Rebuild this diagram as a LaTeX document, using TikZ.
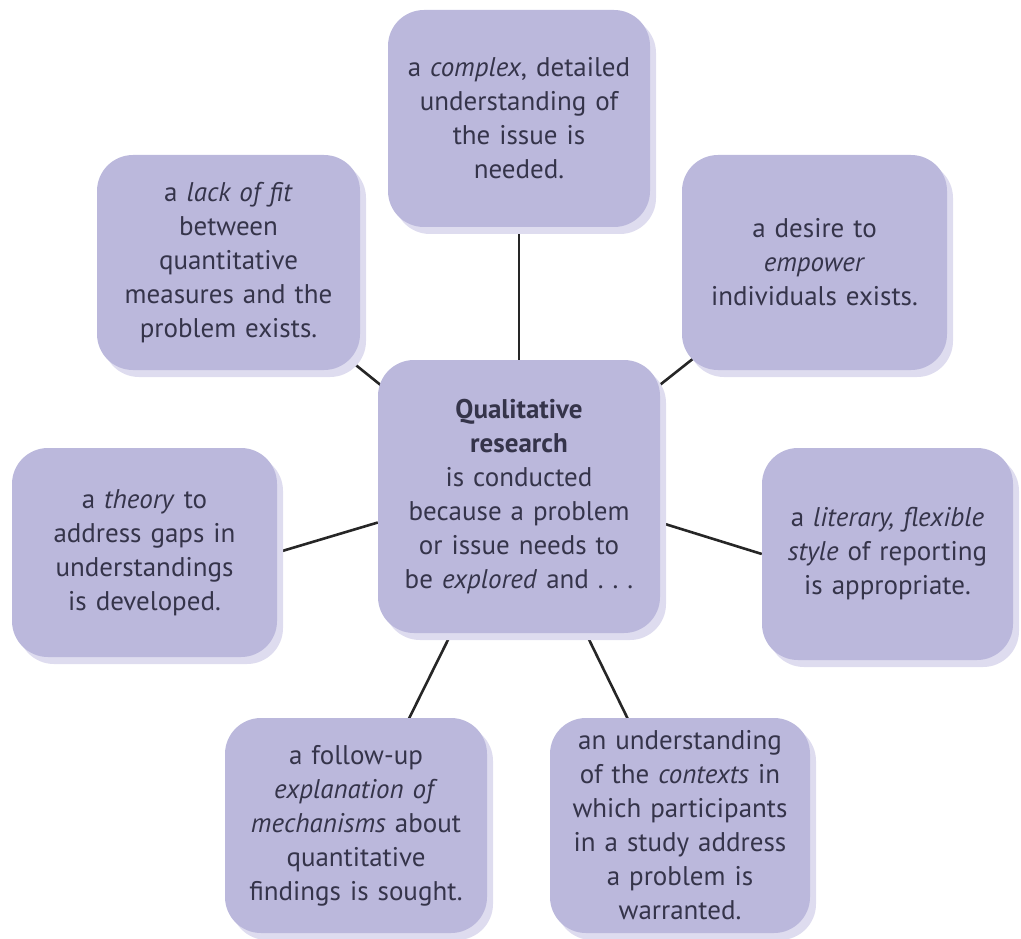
\documentclass[tikz,border=0pt]{standalone}
\usepackage{fontspec}
\setmainfont{PT Sans}
\usetikzlibrary{shadows,backgrounds,calc}
\definecolor{boxfill}{HTML}{BBB8DC}
\definecolor{boxshadow}{HTML}{DEDCEF}
\definecolor{boxtext}{HTML}{35344A}
\definecolor{linkcol}{HTML}{262626}
\begin{document}
\begin{tikzpicture}[x=1pt,y=-1pt,
  idea/.style={draw=none, fill=boxfill, rounded corners=36pt, inner sep=0pt,
    align=center, text=boxtext, font=\fontsize{27}{34}\selectfont,
    drop shadow={shadow xshift=6pt, shadow yshift=-7pt, fill=boxshadow, opacity=1}},
  link/.style={draw=linkcol, line width=2.6pt}]
\useasboundingbox (0,0) rectangle (1021,939);
\node[idea, minimum width=262pt, minimum height=217pt, text width=255pt] (top) at (519,118.5)
  {a \emph{complex}, detailed\\understanding of\\the issue is\\needed.};
\node[idea, minimum width=282pt, minimum height=273pt, text width=275pt] (c) at (519,496.5)
  {\textbf{Qualitative}\\\textbf{research}\\is conducted\\because a problem\\or issue needs to\\be \emph{explored} and .~.~.};
\node[idea, minimum width=263pt, minimum height=215pt, text width=255pt] (lt) at (228.5,262.5)
  {a \emph{lack of fit}\\between\\quantitative\\measures and the\\problem exists.};
\node[idea, minimum width=265pt, minimum height=215pt, text width=255pt] (rt) at (814.5,262.5)
  {a desire to\\\emph{empower}\\individuals exists.};
\node[idea, minimum width=265pt, minimum height=209pt, text width=255pt] (lm) at (144.5,552.5)
  {a \emph{theory} to\\address gaps in\\understandings\\is developed.};
\node[idea, minimum width=251pt, minimum height=212pt, text width=245pt] (rm) at (887.5,554)
  {a \emph{literary, flexible}\\\emph{style} of reporting\\is appropriate.};
\node[idea, minimum width=262pt, minimum height=215pt, text width=255pt] (bl) at (356,825.5)
  {a follow-up\\\emph{explanation of}\\\emph{mechanisms} about\\quantitative\\findings is sought.};
\node[idea, minimum width=260pt, minimum height=215pt, text width=255pt] (br) at (680,825.5)
  {an understanding\\of the \emph{contexts} in\\which participants\\in a study address\\a problem is\\warranted.};
\begin{scope}[on background layer]
  \draw[link] (top.center) -- (c.center);
  \draw[link] (lt.center) -- (c.center);
  \draw[link] (rt.center) -- (c.center);
  \draw[link] (bl.center) -- (c.center);
  \draw[link] (br.center) -- (c.center);
  \draw[link] (lm.east) -- ([yshift=-26pt]c.west);
  \draw[link] (rm.west) -- ([yshift=-26pt]c.east);
\end{scope}
\end{tikzpicture}
\end{document}
